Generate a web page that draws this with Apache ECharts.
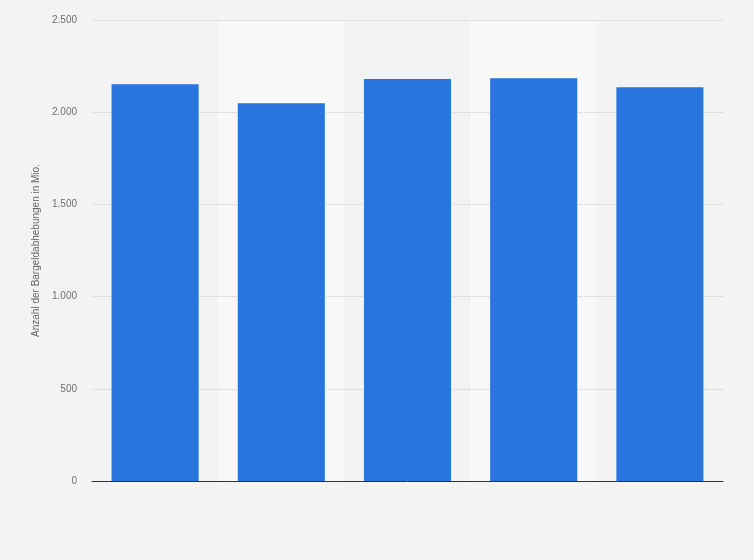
<!DOCTYPE html>
<html>
<head>
<meta charset="utf-8">
<script src="https://cdn.jsdelivr.net/npm/echarts@6/dist/echarts.min.js"></script>
<style>
  html, body { margin: 0; padding: 0; background: #f3f3f3; }
  #chart { width: 754px; height: 560px; }
</style>
</head>
<body>
<div id="chart"></div>
<script>
// categories are not labelled in the picture
const categories = ['1', '2', '3', '4', '5'];
const withdrawals = [2151, 2048, 2180, 2184, 2135];
const yTicks = [0, 500, 1000, 1500, 2000, 2500];

const chart = echarts.init(document.getElementById('chart'));

chart.setOption({
  backgroundColor: '#f3f3f3',
  animation: false,
  grid: { left: 92, right: 31, top: 20, bottom: 79 },
  xAxis: {
    type: 'category',
    data: categories,
    z: 0,
    axisLine: { lineStyle: { color: '#333', width: 1 } },
    axisTick: { show: false },
    axisLabel: { show: false },
    splitArea: { show: true, areaStyle: { color: ['rgba(0,0,0,0)', '#f8f8f8'] } }
  },
  yAxis: {
    type: 'value',
    z: 1,
    min: yTicks[0],
    max: yTicks[yTicks.length - 1],
    interval: 500,
    name: 'Anzahl der Bargeldabhebungen in Mio.',
    nameLocation: 'middle',
    nameGap: 51,
    nameTextStyle: { color: '#666', fontSize: 10, fontFamily: 'Liberation Sans' },
    axisLine: { show: false },
    axisTick: { show: false },
    axisLabel: {
      color: '#6f6f6f',
      fontSize: 10,
      fontFamily: 'Liberation Sans',
      margin: 15,
      formatter: v => v.toLocaleString('de-DE')
    },
    splitLine: { showMinLine: false, lineStyle: { color: '#ccc', type: [1, 1] } }
  },
  series: [{
    type: 'bar',
    data: withdrawals,
    barWidth: '69%',
    itemStyle: { color: '#2876dd' }
  }]
});
</script>
</body>
</html>
